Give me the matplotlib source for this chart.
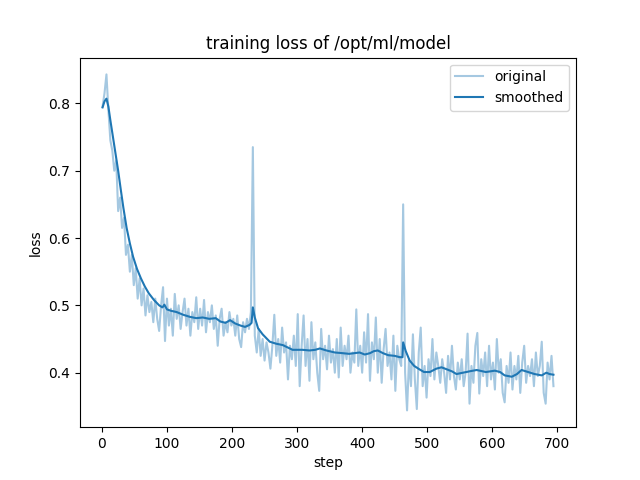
import numpy as np
import matplotlib
matplotlib.use('Agg')
import matplotlib.pyplot as plt

steps = np.arange(1, 695, 3)
loss = [
    0.795, 0.815, 0.843, 0.790, 0.745, 0.730, 0.700, 0.715, 0.640, 0.660,
    0.615, 0.630, 0.575, 0.590, 0.550, 0.575, 0.530, 0.555, 0.510, 0.540,
    0.500, 0.525, 0.485, 0.515, 0.490, 0.505, 0.475, 0.510, 0.480, 0.462,
    0.500, 0.527, 0.447, 0.510, 0.470, 0.495, 0.455, 0.517, 0.480, 0.500,
    0.465, 0.490, 0.510, 0.470, 0.495, 0.455, 0.490, 0.475, 0.512, 0.465,
    0.495, 0.470, 0.508, 0.460, 0.490, 0.475, 0.500, 0.465, 0.485, 0.440,
    0.480, 0.495, 0.455, 0.475, 0.460, 0.490, 0.470, 0.480, 0.455, 0.485,
    0.450, 0.438, 0.475, 0.460, 0.480, 0.465, 0.490, 0.735, 0.455, 0.430,
    0.465, 0.425, 0.450, 0.418, 0.445, 0.430, 0.406, 0.440, 0.486, 0.425,
    0.450, 0.415, 0.467, 0.430, 0.445, 0.390, 0.440, 0.420, 0.455, 0.410,
    0.487, 0.380, 0.440, 0.485, 0.410, 0.450, 0.388, 0.475, 0.420, 0.445,
    0.400, 0.373, 0.465, 0.420, 0.440, 0.405, 0.455, 0.415, 0.435, 0.400,
    0.450, 0.393, 0.467, 0.410, 0.440, 0.420, 0.455, 0.400, 0.430, 0.415,
    0.494, 0.410, 0.440, 0.400, 0.460, 0.415, 0.487, 0.388, 0.445, 0.420,
    0.482, 0.400, 0.450, 0.385, 0.435, 0.465, 0.410, 0.430, 0.390, 0.455,
    0.373, 0.440, 0.420, 0.410, 0.650, 0.400, 0.344, 0.420, 0.380, 0.457,
    0.390, 0.346, 0.430, 0.467, 0.380, 0.410, 0.363, 0.420, 0.395, 0.450,
    0.390, 0.430, 0.410, 0.385, 0.420, 0.400, 0.370, 0.425, 0.390, 0.440,
    0.395, 0.375, 0.415, 0.390, 0.420, 0.380, 0.400, 0.458, 0.354, 0.410,
    0.385, 0.440, 0.459, 0.369, 0.420, 0.395, 0.430, 0.380, 0.440, 0.390,
    0.415, 0.375, 0.450, 0.400, 0.420, 0.370, 0.356, 0.410, 0.385, 0.430,
    0.375, 0.410, 0.390, 0.425, 0.370, 0.415, 0.440, 0.385, 0.410, 0.395,
    0.420, 0.380, 0.430, 0.395, 0.410, 0.446, 0.370, 0.354, 0.415, 0.390,
    0.425, 0.380,
]

# smoothed curve
smooth_steps = [
    1, 4, 7, 10, 13, 17, 21, 25, 29, 33, 38, 43, 48, 54, 60, 66, 72, 80, 88, 93,
    96, 100, 106, 115, 125, 135, 145, 155, 165, 175, 182, 190, 197, 205, 213, 220,
    227, 230, 232, 235, 240, 247, 258, 268, 278, 293, 308, 319, 328, 335, 345, 358,
    370, 380, 388, 396, 404, 412, 418, 424, 432, 440, 450, 458, 462, 463, 467, 473,
    480, 488, 495, 504, 514, 522, 530, 538, 545, 555, 565, 576, 590, 604, 612, 619,
    630, 638, 645, 655, 665, 676, 683, 688, 694,
]
smooth_loss = [
    0.794, 0.803, 0.807, 0.795, 0.775, 0.750, 0.725, 0.700, 0.672, 0.645, 0.615, 0.592,
    0.572, 0.554, 0.540, 0.528, 0.518, 0.508, 0.500, 0.497, 0.501, 0.494, 0.492, 0.490,
    0.486, 0.483, 0.481, 0.482, 0.480, 0.481, 0.476, 0.474, 0.478, 0.473, 0.470, 0.468,
    0.471, 0.474, 0.497, 0.482, 0.466, 0.457, 0.446, 0.443, 0.441, 0.434, 0.434, 0.433,
    0.434, 0.436, 0.433, 0.430, 0.429, 0.428, 0.429, 0.430, 0.427, 0.429, 0.432, 0.433,
    0.429, 0.426, 0.425, 0.423, 0.423, 0.445, 0.432, 0.418, 0.410, 0.405, 0.401, 0.401,
    0.406, 0.408, 0.405, 0.402, 0.398, 0.400, 0.402, 0.404, 0.401, 0.403, 0.401, 0.396,
    0.394, 0.398, 0.404, 0.401, 0.398, 0.396, 0.400, 0.398, 0.397,
]

plt.figure(figsize=(6.4, 4.8), dpi=100)
plt.plot(steps, loss, color='#1f77b4', alpha=0.4, label='original')
plt.plot(smooth_steps, smooth_loss, color='#1f77b4', label='smoothed')
plt.title('training loss of /opt/ml/model')
plt.xlabel('step')
plt.ylabel('loss')
plt.legend()
plt.savefig('out.png', dpi=100)
